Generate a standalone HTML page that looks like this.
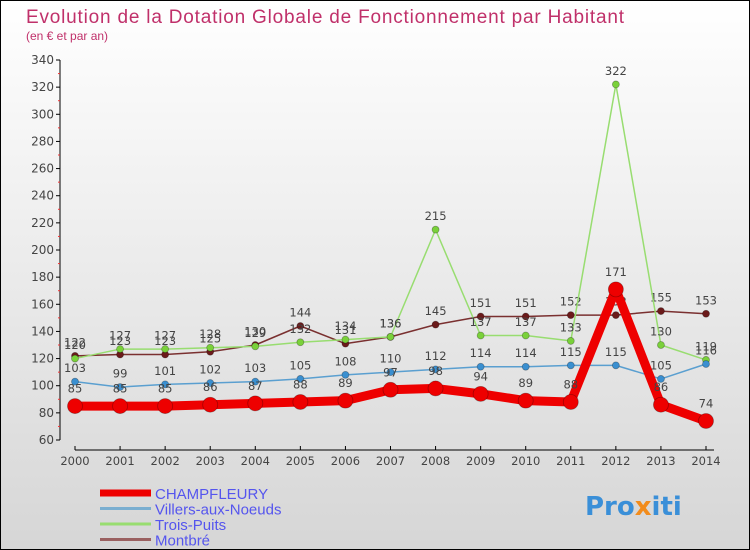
<!DOCTYPE html>
<html><head><meta charset="utf-8"><style>
body{margin:0;padding:0}
#c{width:750px;height:550px;position:relative;box-sizing:border-box;border:1px solid #000;background:linear-gradient(#ffffff,#d6d6d6);font-family:"DejaVu Sans","Liberation Sans",sans-serif;overflow:hidden}
</style></head><body>
<div id="c">
<svg id="s" width="750" height="550" style="position:absolute;left:-1px;top:-1px">
<text x="26" y="23" font-size="19" fill="#c0306a" font-family="Liberation Sans, sans-serif" textLength="598">Evolution de la Dotation Globale de Fonctionnement par Habitant</text>
<text x="26" y="40" font-size="12" fill="#c0306a" font-family="Liberation Sans, sans-serif">(en € et par an)</text>
<g id="axes"></g><g id="series"></g><g id="legend"></g>
<text x="585" y="515" font-size="26" font-weight="bold" fill="#3a8fd8">Pro<tspan fill="#f28c1c">x</tspan>iti</text>
</svg>
</div>
<script>
const years=[2000,2001,2002,2003,2004,2005,2006,2007,2008,2009,2010,2011,2012,2013,2014];
const champfleury=[85,85,85,86,87,88,89,97,98,94,89,88,171,86,74];
const villers=[103,99,101,102,103,105,108,110,112,114,114,115,115,105,116];
const troisPuits=[120,127,127,128,129,132,134,136,215,137,137,133,322,130,119];
const montbre=[122,123,123,125,130,144,131,136,145,151,151,152,152,155,153];
const yTicks=[60,80,100,120,140,160,180,200,220,240,260,280,300,320,340];
const NS="http://www.w3.org/2000/svg";
function X(i){return 75+i*(706-75)/(years.length-1);}
function Y(v){return 440-(v-60)*380/280;}
function mk(t,a,p){const e=document.createElementNS(NS,t);for(const k in a)e.setAttribute(k,a[k]);p.appendChild(e);return e;}
const ax=document.getElementById('axes');
let yl=mk('line',{x1:60,y1:Y(340),x2:60,y2:440,stroke:'#000'},ax);


yTicks.forEach((v,i)=>{
 mk('line',{x1:56,y1:Y(v),x2:60,y2:Y(v),stroke:'#000'},ax);
 if(i>0)mk('line',{x1:58,y1:Y(v-10),x2:60,y2:Y(v-10),stroke:'#e33'},ax);
 const t=mk('text',{x:54,y:Y(v)+4,'font-size':12,fill:'#444','text-anchor':'end'},ax);t.textContent=v;
 
 
});
let xl=mk('line',{x1:75,y1:450,x2:714,y2:450,stroke:'#000'},ax);


years.forEach((y,i)=>{
 mk('line',{x1:X(i),y1:446,x2:X(i),y2:450,stroke:'#000'},ax);
 const t=mk('text',{x:X(i),y:465,'font-size':11.5,fill:'#444','text-anchor':'middle'},ax);t.textContent=y;
 
 
});
const sg=document.getElementById('series');
const defs=[
 {d:montbre,c:'#6b1a1a',lc:'#7a3030',w:1.5,r:3.5,n:'montbre'},
 {d:troisPuits,c:'#7ad13a',lc:'#98dd70',w:1.5,r:3.5,n:'trois-puits'},
 {d:villers,c:'#3a8fd0',lc:'#5a9fd0',w:1.5,r:3.5,n:'villers-aux-noeuds'},
 {d:champfleury,c:'#ee0000',lc:'#ee0000',w:9,r:7.5,n:'champfleury'}];
defs.forEach(s=>{
 const g=mk('g',{},sg);
 
 
 const pl=mk('polyline',{points:s.d.map((v,i)=>X(i)+','+Y(v)).join(' '),fill:'none',stroke:s.lc,'stroke-width':s.w,'stroke-linejoin':'round'},g);
 
 
 s.d.forEach((v,i)=>{
  const c=mk('circle',{cx:X(i),cy:Y(v),r:s.r,fill:s.c,stroke:'rgba(0,0,0,0.3)','stroke-width':0.8},g);
  
  
  const t=mk('text',{x:X(i),y:Y(v)-(s.r+6),'font-size':11.5,fill:'#444','text-anchor':'middle'},g);t.textContent=v;
  
  
 });
});
const lg=document.getElementById('legend');
[['CHAMPFLEURY','#ee0000',7],['Villers-aux-Noeuds','#7aaed0',3],['Trois-Puits','#98dd70',3],['Montbré','#9a6060',3]].forEach((e,i)=>{
 const y=493+i*15.5;
 const l=mk('line',{x1:100,y1:y,x2:151,y2:y,stroke:e[1],'stroke-width':e[2]},lg);
 
 
 const t=mk('text',{x:155,y:y+6,'font-size':15,fill:'#5555ee','font-family':'Liberation Sans, sans-serif'},lg);t.textContent=e[0];
 
 
});
</script>
</body></html>
